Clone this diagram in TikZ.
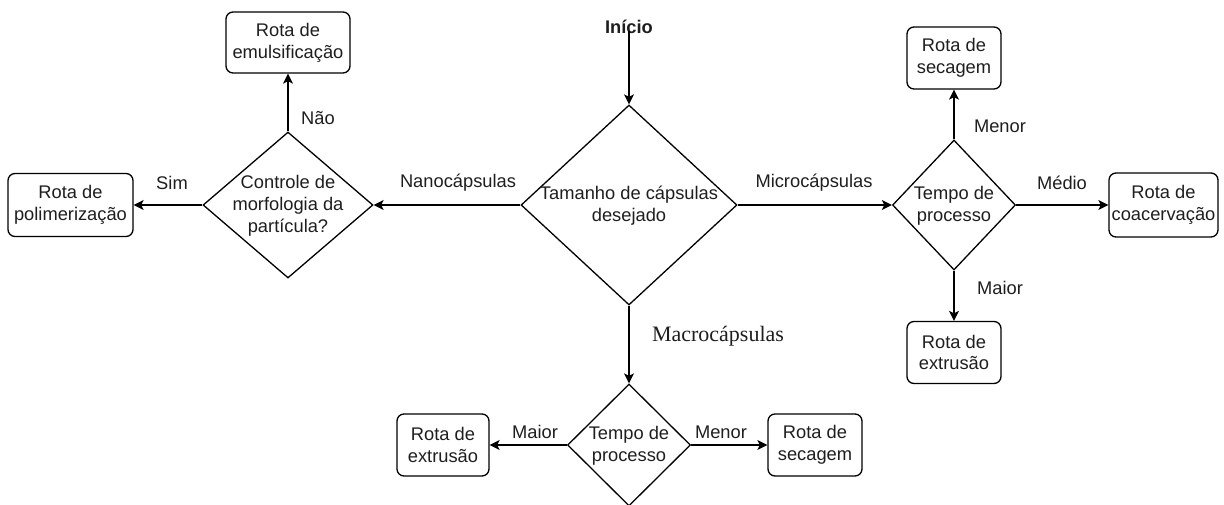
\documentclass[tikz,border=0pt]{standalone}
\usepackage{fontspec}
\setmainfont{Liberation Sans}
\newfontfamily\labelserif{Liberation Serif}
\usetikzlibrary{shapes.geometric,arrows.meta}

\definecolor{ink}{RGB}{30,30,30}

\tikzset{
  base/.style={font=\fontsize{18.3}{21.8}\selectfont, text=ink},
  dmd/.style={diamond, draw=black, line width=1.3pt, inner sep=0pt},
  route/.style={base, draw=black, line width=1.3pt, rounded corners=7pt,
                align=center, inner sep=0pt},
  txt/.style={base, align=center, inner sep=0pt},
  lbl/.style={base, inner sep=0pt},
  flow/.style={draw=black, line width=1.3pt,
               -{Stealth[length=10pt, width=10pt, inset=2.5pt]}}
}

\begin{document}
\begin{tikzpicture}[x=1pt, y=-1pt]
  \useasboundingbox (0,0) rectangle (1224,504);

  % start marker
  \node[base, font=\fontsize{18.3}{21.8}\selectfont\bfseries] (start) at (629,27) {Início};

  % decision diamonds
  \node[dmd, minimum width=216pt, minimum height=200pt] (d0) at (629,205) {};
  \node[txt] (t0) at (629,206) {Tamanho de cápsulas\\desejado};

  \node[dmd, minimum width=170pt, minimum height=146pt] (d1) at (288,205) {};
  \node[txt] (t1) at (288,206) {Controle de\\morfologia da\\partícula?};

  \node[dmd, minimum width=123pt, minimum height=130pt] (d2) at (954,205) {};
  \node[txt] (t2) at (954,206) {Tempo de\\processo};

  \node[dmd, minimum width=123pt, minimum height=122pt] (d3) at (629,445) {};
  \node[txt] (t3) at (629,446) {Tempo de\\processo};

  % route boxes
  \node[route, minimum width=124pt, minimum height=61pt] (bEmul) at (288,42.5) {Rota de\\emulsificação};
  \node[route, minimum width=125pt, minimum height=63pt] (bPoli) at (70.5,205) {Rota de\\polimerização};
  \node[route, minimum width=94pt, minimum height=62pt] (bSecA) at (954,58) {Rota de\\secagem};
  \node[route, minimum width=94pt, minimum height=62pt] (bExtA) at (954,352.5) {Rota de\\extrusão};
  \node[route, minimum width=109pt, minimum height=64pt] (bCoac) at (1163.5,205) {Rota de\\coacervação};
  \node[route, minimum width=92pt, minimum height=62pt] (bExtB) at (443,445) {Rota de\\extrusão};
  \node[route, minimum width=94pt, minimum height=62pt] (bSecB) at (815,445) {Rota de\\secagem};

  % connectors
  \draw[flow] (start.south) ++(0,6pt) coordinate (s0) (s0) -- (d0.north);
  \draw[flow] (d0.west) -- (d1.east);
  \draw[flow] (d1.west) -- (bPoli.east);
  \draw[flow] (d1.north) -- (bEmul.south);
  \draw[flow] (d0.east) -- (d2.west);
  \draw[flow] (d2.north) -- (bSecA.south);
  \draw[flow] (d2.south) -- (bExtA.north);
  \draw[flow] (d2.east) -- (bCoac.west);
  \draw[flow] (d0.south) -- (d3.north);
  \draw[flow] (d3.west) -- (bExtB.east);
  \draw[flow] (d3.east) -- (bSecB.west);

  % connector labels
  \node[lbl] (lNano) at (458,183) {Nanocápsulas};
  \node[lbl] (lSim) at (172,183) {Sim};
  \node[lbl] (lNao) at (318,118) {Não};
  \node[lbl] (lMicro) at (814,183) {Microcápsulas};
  \node[lbl] (lMenorA) at (1000,126) {Menor};
  \node[lbl] (lMaiorA) at (1000,288) {Maior};
  \node[lbl] (lMedio) at (1062,183) {Médio};
  \node[lbl, font=\labelserif\fontsize{22}{26}\selectfont] (lMacro) at (718,336) {Macrocápsulas};
  \node[lbl] (lMaiorB) at (535,432) {Maior};
  \node[lbl] (lMenorB) at (721,432) {Menor};
\end{tikzpicture}
\end{document}
